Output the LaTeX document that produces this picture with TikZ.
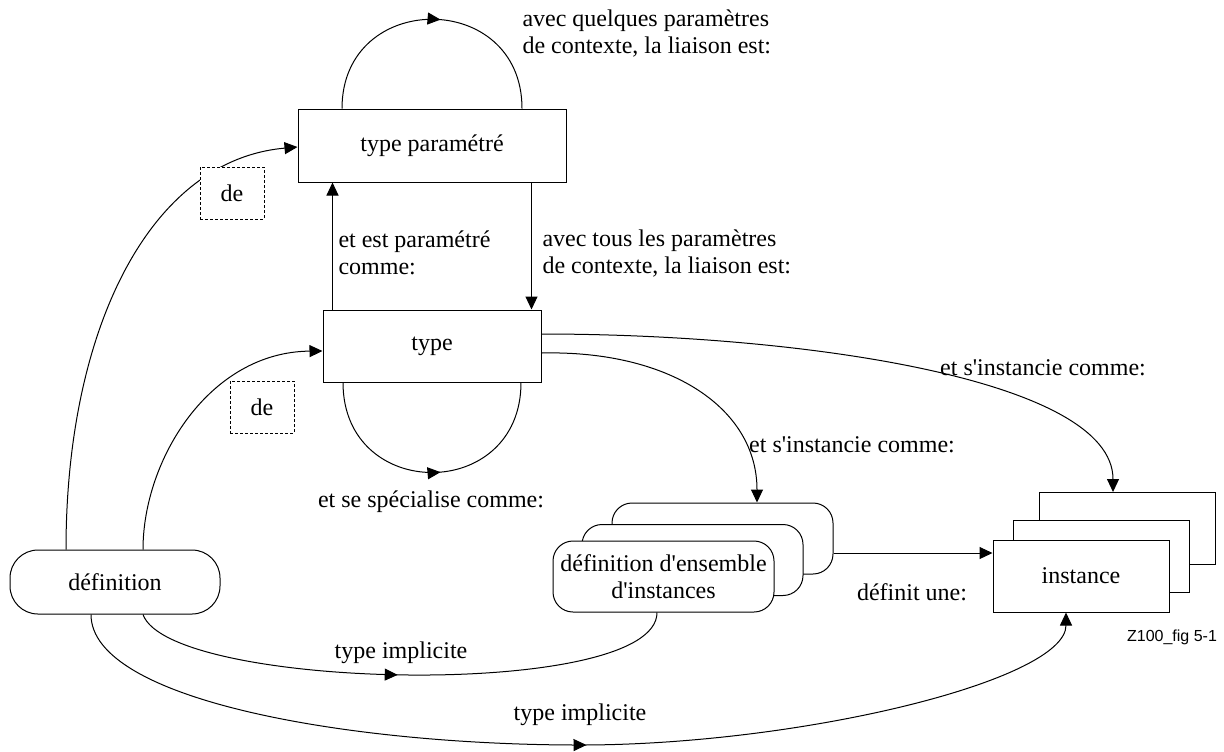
\documentclass[tikz,border=0pt]{standalone}
\usepackage{fontspec}
\setmainfont{Liberation Serif}
\newfontfamily\figfont{Liberation Sans}
\usetikzlibrary{arrows.meta,calc,decorations.markings}
\begin{document}
\begin{tikzpicture}[x=0.5pt, y=-0.5pt, line width=0.5pt,
    font=\fontsize{12}{13.5}\selectfont,
    >={Triangle[length=6.5pt,width=6pt]},
    box/.style={draw, fill=white, inner sep=0pt, align=center, minimum height=36pt},
    roundbox/.style={box, rounded corners=10pt, minimum width=110.5pt, minimum height=35.5pt},
    instbox/.style={box, minimum width=88pt},
    debox/.style={draw, fill=white, dash pattern=on 1.5pt off 1pt, line width=0.4pt,
        minimum width=32pt, minimum height=26pt, inner sep=0pt},
    txt/.style={inner sep=0pt, align=left},
    midarrow/.style={postaction={decorate, decoration={markings,
        mark=at position #1 with {\arrow{Triangle[length=6.5pt,width=6pt]}}}}}]
    \useasboundingbox (0,0) rectangle (1224,751);
    % boxes
    \node[box, minimum width=134pt, minimum height=36.5pt] (tp) at (432,145.5) {type paramétré};
    \node[box, minimum width=109pt] (ty) at (432,346) {type};
    \node[box, rounded corners=14pt, minimum width=105pt, minimum height=32pt] (def) at (115,582) {définition};
    \node[roundbox] (ens3) at (722.5,538.5) {};
    \node[roundbox] (ens2) at (692.5,560) {};
    \node[roundbox] (ens1) at (663.5,576.5) {définition d\textquotesingle ensemble\\d\textquotesingle instances};
    \node[instbox] (inst3) at (1127.5,528.5) {};
    \node[instbox] (inst2) at (1101,556) {};
    \node[instbox] (inst1) at (1081,576) {instance};
    % loops
    \draw[midarrow=0.53] ($(tp.north)+(-90,0)$) .. controls +(0,-119) and +(0,-119) .. ($(tp.north)+(90,0)$);
    \draw[midarrow=0.53] ($(ty.south)+(-89,0)$) .. controls +(0,120) and +(0,120) .. ($(ty.south)+(89,0)$);
    % parametrisation
    \coordinate (u) at ($(ty.north west)+(10,0)$);
    \draw[->] (u) -- (u |- tp.south);
    \coordinate (d) at ($(ty.north east)+(-10,0)$);
    \draw[->] (d |- tp.south) -- (d);
    % de
    \draw[->] ($(def.north)+(-49,0)$) .. controls +(0,-220) and +(-148,13) .. ($(tp.west)+(0,1.5)$);
    \draw[->] ($(def.north)+(28,0)$) .. controls +(0,-90) and +(-113,1) .. ($(ty.west)+(0,5)$);
    \node[debox] (de1) at (232,193) {de};
    \node[debox] (de2) at (262,407) {de};
    % instances
    \draw[->] ($(ty.east)+(0,-12)$) .. controls +(259,0) and +(0,-113) .. ($(inst3.north)+(-14.5,0)$);
    \draw[->] ($(ty.east)+(0,7)$) .. controls +(129,-3) and +(0,-94) .. ($(ens3.north)+(34.5,0)$);
    \coordinate (p) at ($(inst1.west)+(0,-23)$);
    \draw[->] (ens3.east |- p) -- (p);
    % implicit types
    \draw[midarrow=0.49] ($(def.south)+(28,0)$) .. controls +(27,76) and +(0,88) .. ($(ens1.south)+(-6.5,0)$);
    \draw[->, midarrow=0.51] ($(def.south)+(-24,0)$) .. controls +(0,86) and (350,745) .. (580,745)
        .. controls (800,745) and +(0,68) .. ($(inst1.south)+(-15,0)$);
    % labels
    \node[txt, anchor=west] (q1) at (522,33) {avec quelques paramètres\\de contexte, la liaison est:};
    \node[txt, anchor=west] (q2) at (338,253) {et est paramétré\\comme:};
    \node[txt, anchor=west] (q3) at (542,253) {avec tous les paramètres\\de contexte, la liaison est:};
    \node[txt] (q4) at (431,502) {et se spécialise comme:};
    \node[txt] (q5) at (1043,368) {et s\textquotesingle instancie comme:};
    \node[txt] (q6) at (852,445) {et s\textquotesingle instancie comme:};
    \node[txt] (q7) at (912,592) {définit une:};
    \node[txt] (q8) at (401,653) {type implicite};
    \node[txt] (q9) at (580,715) {type implicite};
    \node[txt, font=\figfont\fontsize{8}{9}\selectfont] (fig) at (1172,637) {Z100\_fig 5-1};
\end{tikzpicture}
\end{document}
